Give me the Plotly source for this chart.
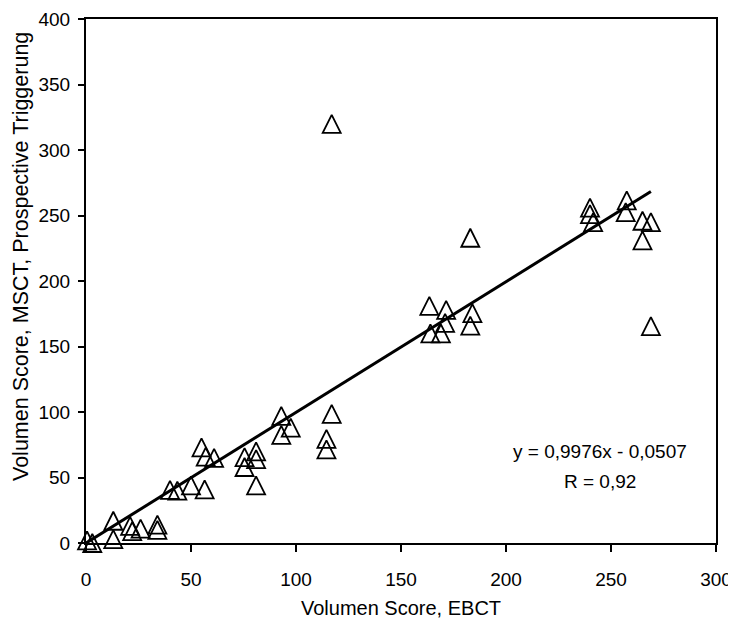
import plotly.graph_objects as go

# Data
ebct = [0.5, 3, 13, 13, 21, 22, 26, 34, 34,
        40, 43.5, 50, 56.5, 55, 57, 61,
        75.5, 75.5, 81, 81, 81,
        93, 93, 97.5,
        117, 114.5, 114.5, 117,
        163.5, 164, 169, 171.5, 171, 183, 183, 184,
        240, 240, 241.5, 257.5, 257, 265, 269, 265, 269]
msct = [2, 0, 17, 3, 13, 9, 11, 14, 10,
        40.5, 40, 44, 41, 73, 66, 65,
        65.5, 58, 70, 64, 44,
        97, 82.5, 88,
        98.5, 79.5, 71.5, 320,
        181, 160, 160, 178, 168, 233, 166, 175.5,
        256, 251, 245, 261.5, 252.5, 246, 245, 231, 165.5]

slope = 0.9976
intercept = -0.0507
fit_x = [0, max(ebct)]
fit_y = [slope * v + intercept for v in fit_x]

eq_text = "y = 0,9976x - 0,0507"
r_text = "R = 0,92"
x_title = "Volumen Score, EBCT"
y_title = "Volumen Score, MSCT, Prospective Triggerung"

FONT = "Liberation Sans, Arial, sans-serif"
MSIZE = 18

# page body has an 8px margin, so the figure is 8px smaller than the window
W, H = 728, 614
L, R, T, B = 78, 20, 11, 79
PW, PH = W - L - R, H - T - B

fig = go.Figure()
fig.add_trace(go.Scatter(
    x=fit_x, y=fit_y, mode="lines",
    line=dict(color="black", width=3),
    showlegend=False, hoverinfo="skip", cliponaxis=False))
# Upright triangle (equal width/height) centred on the data point
fig.add_trace(go.Scatter(
    x=ebct, y=msct, mode="markers",
    marker=dict(symbol="arrow-down-open", angle=180, standoff=MSIZE / 2,
                size=MSIZE, color="black",
                line=dict(color="black", width=1.8)),
    showlegend=False, cliponaxis=False))

fig.add_annotation(x=244.8, y=69.7, xref="x", yref="y", text=eq_text,
                   showarrow=False, font=dict(family=FONT, size=19, color="black"))
fig.add_annotation(x=244.8, y=46.8, xref="x", yref="y", text=r_text,
                   showarrow=False, font=dict(family=FONT, size=19, color="black"))

# y-axis title, placed as in the reference (not centred on the axis)
fig.add_annotation(x=(13 - L) / PW, y=(PH - (257 - 8 - T)) / PH,
                   xref="paper", yref="paper", text=y_title, textangle=-90,
                   showarrow=False, xanchor="center", yanchor="middle",
                   font=dict(family=FONT, size=21.5, color="black"))

fig.update_layout(
    width=W, height=H,
    margin=dict(l=L, r=R, t=T, b=B),
    paper_bgcolor="white", plot_bgcolor="white",
    font=dict(family=FONT, size=19, color="black"),
    xaxis=dict(
        range=[0, 300], tickvals=[0, 50, 100, 150, 200, 250, 300],
        showgrid=False, zeroline=False, automargin=False,
        showline=True, linecolor="black", linewidth=2, mirror=True,
        ticks="outside", ticklen=7, tickwidth=1.5, tickcolor="black",
        ticklabelstandoff=11,
        title=dict(text=x_title, standoff=12,
                   font=dict(family=FONT, size=20, color="black")),
    ),
    yaxis=dict(
        range=[0, 400], tickvals=[0, 50, 100, 150, 200, 250, 300, 350, 400],
        showgrid=False, zeroline=False, automargin=False,
        showline=True, linecolor="black", linewidth=2, mirror=True,
        ticks="outside", ticklen=6, tickwidth=1.5, tickcolor="black",
        ticklabelstandoff=4,
    ),
)

fig.write_html("out.html")
